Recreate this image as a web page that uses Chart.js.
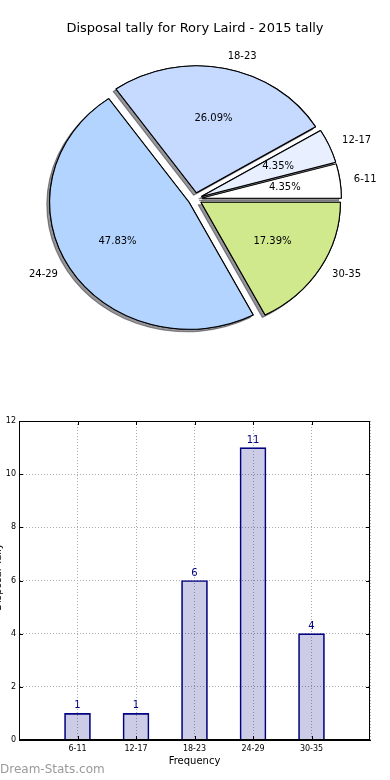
<!DOCTYPE html>
<html>
<head>
<meta charset="utf-8">
<title>Disposal tally - Rory Laird 2015</title>
<script src="https://cdn.jsdelivr.net/npm/chart.js@4.4.1/dist/chart.umd.min.js"></script>
<style>
    html, body { margin: 0; padding: 0; background: #fff; }
    canvas { display: block; }
</style>
</head>
<body>
<canvas id="pie" width="390" height="400"></canvas>
<canvas id="bar" width="390" height="380"></canvas>
<script>
const categories = ['6-11', '12-17', '18-23', '24-29', '30-35'];
const tallies = [1, 1, 6, 11, 4];
const sliceColors = ['#ffffff', '#e8f0ff', '#c6d9ff', '#b3d4ff', '#cfe98c'];
const yTicks = [0, 2, 4, 6, 8, 10, 12];

const FONT = '"DejaVu Sans", sans-serif';
const EXPLODE = 0.05;
const STRETCH = 1.098; // the original axes were not square, so the pie is a bit wider than tall

const total = tallies.reduce((a, b) => a + b, 0);

// matplotlib goes counter-clockwise from 3 o'clock, Chart.js clockwise,
// so feed the slices in reverse and start at 90deg
const pieLabels = categories.slice().reverse();
const pieValues = tallies.slice().reverse();
const pieColors = sliceColors.slice().reverse();

const explodedPie = {
    id: 'explodedPie',
    beforeDatasetsDraw(chart) {
        const ctx = chart.ctx;
        const arcs = chart.getDatasetMeta(0).data;
        const { x, y } = arcs[0];

        ctx.save();
        ctx.translate(x, y);
        ctx.scale(STRETCH, 1);
        ctx.translate(-x, -y);

        // first pass leaves the shadows, second pass paints the wedges over them
        [true, false].forEach((shadow) => {
            ctx.shadowColor = shadow ? 'rgba(20, 20, 30, 0.45)' : 'rgba(0, 0, 0, 0)';
            ctx.shadowOffsetX = shadow ? -2.8 : 0;
            ctx.shadowOffsetY = shadow ? 2.5 : 0;
            arcs.forEach((arc) => {
                const mid = (arc.startAngle + arc.endAngle) / 2;
                const d = arc.outerRadius * EXPLODE;
                ctx.save();
                ctx.translate(Math.cos(mid) * d, Math.sin(mid) * d);
                arc.draw(ctx);
                ctx.restore();
            });
        });

        ctx.restore();
        return false;
    },
    afterDraw(chart) {
        const ctx = chart.ctx;
        const arcs = chart.getDatasetMeta(0).data;

        ctx.save();
        ctx.font = '10px ' + FONT;
        ctx.fillStyle = '#000';
        ctx.textBaseline = 'middle';

        arcs.forEach((arc, i) => {
            const mid = (arc.startAngle + arc.endAngle) / 2;
            const r = arc.outerRadius;
            const cos = Math.cos(mid) * STRETCH;
            const sin = Math.sin(mid);
            const cx = arc.x + cos * r * EXPLODE;
            const cy = arc.y + sin * r * EXPLODE;

            ctx.textAlign = cos > 0 ? 'left' : 'right';
            ctx.fillText(chart.data.labels[i], cx + cos * r * 1.1, cy + sin * r * 1.1);

            const pct = (pieValues[i] / total * 100).toFixed(2) + '%';
            ctx.textAlign = 'center';
            ctx.fillText(pct, cx + cos * r * 0.6, cy + sin * r * 0.6);
        });

        ctx.restore();
    },
};

new Chart(document.getElementById('pie'), {
    type: 'pie',
    data: {
        labels: pieLabels,
        datasets: [
            {
                data: pieValues,
                backgroundColor: pieColors,
                borderColor: '#000',
                borderWidth: 1,
                radius: 127,
            },
        ],
    },
    options: {
        responsive: false,
        animation: false,
        rotation: 90,
        layout: { padding: { top: 0, bottom: 38.6 } },
        plugins: {
            legend: { display: false },
            tooltip: { enabled: false },
            title: {
                display: true,
                text: 'Disposal tally for Rory Laird - 2015 tally',
                color: '#000',
                font: { family: FONT, size: 13, weight: 'normal' },
                padding: { top: 21, bottom: 0 },
            },
        },
    },
    plugins: [explodedPie],
});

// bar chart: pad the category axis with blank slots so it runs from -1 to 5 like the original
const barLabels = ['', ...categories, ''];
const barValues = [null, ...tallies, null];

const barDecor = {
    id: 'barDecor',
    afterDatasetsDraw(chart) {
        const ctx = chart.ctx;
        const bars = chart.getDatasetMeta(0).data;

        ctx.save();
        ctx.font = '10px ' + FONT;
        ctx.fillStyle = '#000080';
        ctx.textAlign = 'center';
        ctx.textBaseline = 'alphabetic';
        bars.forEach((bar, i) => {
            if (barValues[i] === null) {
                return;
            }
            ctx.fillText(String(barValues[i]), bar.x, bar.y - 5);
        });
        ctx.restore();
    },
    afterDraw(chart) {
        const ctx = chart.ctx;
        const { left, right, top, bottom } = chart.chartArea;
        const xs = chart.scales.x;
        const ys = chart.scales.y;

        ctx.save();
        ctx.strokeStyle = '#000';
        ctx.lineWidth = 1;
        ctx.strokeRect(left + 0.5, top + 0.5, right - left - 1, bottom - top - 1);

        // inward tick marks on all four sides
        ctx.beginPath();
        yTicks.forEach((v) => {
            const py = Math.round(ys.getPixelForValue(v)) + 0.5;
            ctx.moveTo(left, py);
            ctx.lineTo(left + 4, py);
            ctx.moveTo(right, py);
            ctx.lineTo(right - 4, py);
        });
        categories.forEach((_, i) => {
            const px = Math.round(xs.getPixelForTick(i + 1)) + 0.5;
            ctx.moveTo(px, bottom);
            ctx.lineTo(px, bottom - 4);
            ctx.moveTo(px, top);
            ctx.lineTo(px, top + 4);
        });
        ctx.stroke();

        // y title sits mostly off the left edge in the original
        ctx.fillStyle = '#000';
        ctx.font = '10px ' + FONT;
        ctx.textAlign = 'center';
        ctx.textBaseline = 'alphabetic';
        ctx.translate(0.5, 177);
        ctx.rotate(-Math.PI / 2);
        ctx.fillText('Disposal Tally', 0, 0);
        ctx.restore();

        ctx.save();
        ctx.font = '12px ' + FONT;
        ctx.fillStyle = '#9a9a9a';
        ctx.textAlign = 'left';
        ctx.textBaseline = 'middle';
        ctx.fillText('Dream-Stats.com', 0, 370);
        ctx.restore();
    },
};

new Chart(document.getElementById('bar'), {
    type: 'bar',
    data: {
        labels: barLabels,
        datasets: [
            {
                data: barValues,
                backgroundColor: 'rgba(0, 0, 128, 0.2)',
                borderColor: '#000080',
                borderWidth: 1,
                barThickness: 26,
            },
        ],
    },
    options: {
        responsive: false,
        animation: false,
        layout: { padding: { top: 21, right: 20, left: 0, bottom: 0 } },
        plugins: {
            legend: { display: false },
            tooltip: { enabled: false },
        },
        scales: {
            x: {
                offset: false,
                grid: { offset: false, color: '#aaa', drawTicks: false },
                border: { color: '#000', dash: [1, 2] },
                ticks: {
                    autoSkip: false,
                    maxRotation: 0,
                    padding: 4,
                    color: '#000',
                    font: { family: FONT, size: 8 },
                },
                title: {
                    display: true,
                    text: 'Frequency',
                    color: '#000',
                    font: { family: FONT, size: 10 },
                    padding: { top: 0, bottom: 13 },
                },
                afterFit(scale) {
                    scale.height = 40;
                },
            },
            y: {
                min: yTicks[0],
                max: yTicks[yTicks.length - 1],
                grid: { color: '#aaa', drawTicks: false },
                border: { color: '#000', dash: [1, 2] },
                ticks: {
                    stepSize: yTicks[1] - yTicks[0],
                    padding: 3,
                    color: '#000',
                    font: { family: FONT, size: 8 },
                },
                afterFit(scale) {
                    scale.width = 19;
                },
            },
        },
    },
    plugins: [barDecor],
});
</script>
</body>
</html>
